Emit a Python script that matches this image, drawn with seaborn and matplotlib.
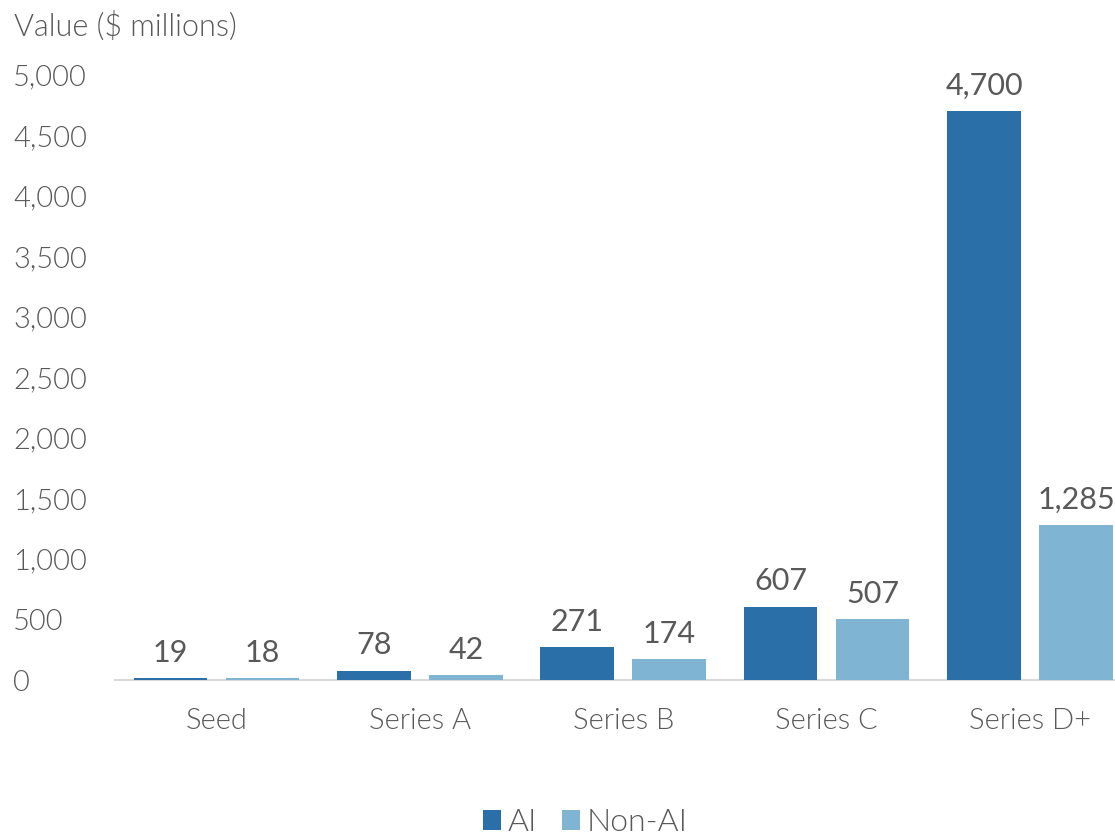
from matplotlib import pyplot as plt
import seaborn as sns
import pandas as pd

stages = ['Seed', 'Series A', 'Series B', 'Series C', 'Series D+']
ai_values = [19, 78, 271, 607, 4700]
non_ai_values = [18, 42, 174, 507, 1285]
groups = ['AI', 'Non-AI']
colors = ['#2a6fa8', '#7fb4d2']
y_ticks = list(range(0, 5001, 500))

df = pd.DataFrame({
    'stage': stages * 2,
    'value': ai_values + non_ai_values,
    'group': [groups[0]] * len(stages) + [groups[1]] * len(stages),
})

sns.set_style('white')
plt.rcParams['font.family'] = ['Lato', 'DejaVu Sans']
text_color = '#595959'
LIGHT = 300

fig = plt.figure(figsize=(11.15, 8.38), dpi=100)
# axes runs a little past the right edge, as in the original
ax = fig.add_axes([0.103, 0.1885, 0.912, 0.722])

sns.barplot(data=df, x='stage', y='value', hue='group', palette=colors,
            width=0.905, gap=0.2, saturation=1, linewidth=0, ax=ax)

# value labels above bars
for container in ax.containers:
    ax.bar_label(container, labels=[f'{v:,.0f}' for v in container.datavalues],
                 padding=8, fontsize=22, color=text_color)

ax.set_ylim(0, 5000)
ax.set_xlim(-0.5, 4.5)
ax.set_yticks(y_ticks)
ax.set_yticklabels([f'{t:,}' for t in y_ticks], fontsize=21, fontweight=LIGHT,
                   color=text_color, ha='left')
ax.set_xticks(range(len(stages)))
ax.set_xticklabels(stages, fontsize=21, fontweight=LIGHT, color=text_color)
ax.tick_params(axis='y', length=0, pad=0)
ax.tick_params(axis='x', length=0, pad=20)
for lbl in ax.get_yticklabels():
    lbl.set_x(-0.1)

ax.set_xlabel('')
ax.set_ylabel('')
sns.despine(ax=ax, left=True)
ax.spines['bottom'].set_color('#d9d9d9')
ax.spines['bottom'].set_linewidth(1.5)
ax.spines['bottom'].set_zorder(0)

fig.text(0.013, 0.968, 'Value ($ millions)', fontsize=22, color=text_color,
         fontweight=LIGHT, va='center', ha='left')

handles, labels = ax.get_legend_handles_labels()
ax.get_legend().remove()
leg = fig.legend(handles, labels, loc='center', bbox_to_anchor=(0.525, 0.018),
                 ncol=2, frameon=False, fontsize=23, handlelength=0.56,
                 handleheight=0.56, handletextpad=0.2, columnspacing=0.8)
for t in leg.get_texts():
    t.set_color(text_color)
    t.set_fontweight(LIGHT)

fig.savefig('out.png', dpi=100)
